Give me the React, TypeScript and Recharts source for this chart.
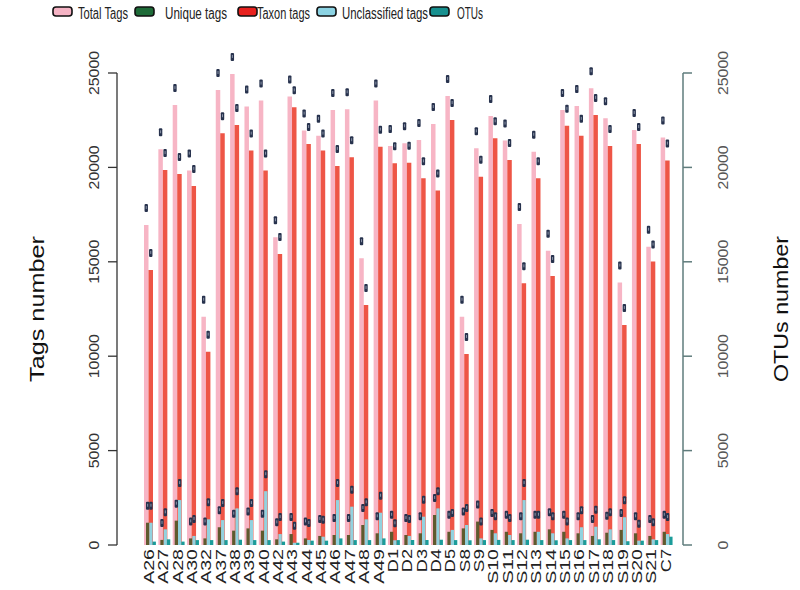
import React from 'react';
import { BarChart, Bar, XAxis, YAxis, Label } from 'recharts';

const categories = ['A26', 'A27', 'A28', 'A30', 'A32', 'A37', 'A38', 'A39', 'A40', 'A42', 'A43', 'A44', 'A45', 'A46', 'A47', 'A48', 'A49', 'D1', 'D2', 'D3', 'D4', 'D5', 'S8', 'S9', 'S10', 'S11', 'S12', 'S13', 'S14', 'S15', 'S16', 'S17', 'S18', 'S19', 'S20', 'S21', 'C7'];
const totalTags = [16950, 20960, 23300, 19830, 12090, 24100, 24950, 23220, 23540, 16300, 23750, 21950, 21670, 23040, 23080, 15190, 23540, 21140, 21280, 21450, 22300, 23780, 12090, 21010, 22720, 21420, 17000, 20830, 15590, 23040, 23250, 24190, 22600, 13900, 21980, 15800, 21590];
const uniqueTags = [1180, 270, 1290, 350, 350, 940, 760, 880, 760, 300, 580, 350, 480, 530, 530, 1060, 620, 700, 530, 620, 1590, 700, 880, 1240, 800, 700, 620, 700, 830, 700, 620, 480, 650, 800, 620, 480, 700];
const taxonTags = [14570, 19860, 19650, 19020, 10240, 21810, 22250, 20890, 19830, 15410, 23180, 21240, 20890, 20080, 20540, 12710, 21100, 20220, 20250, 19420, 18770, 22510, 10120, 19510, 21540, 20390, 13860, 19420, 14250, 22200, 21670, 22780, 21140, 11650, 21240, 15010, 20360];
const unclassifiedTags = [1180, 830, 2380, 480, 1360, 1320, 1940, 1320, 2850, 580, 120, 265, 440, 2380, 2030, 1360, 1710, 250, 480, 1500, 1940, 800, 1060, 350, 620, 530, 2380, 700, 620, 350, 940, 970, 830, 1470, 230, 300, 580];
const otus = [180, 300, 180, 260, 260, 260, 280, 260, 260, 180, 120, 230, 230, 350, 260, 260, 350, 260, 265, 265, 280, 260, 250, 260, 270, 260, 280, 260, 250, 260, 260, 300, 260, 200, 230, 260, 440];
const yTicks = [0, 5000, 10000, 15000, 20000, 25000];

const legendItems = [
  { name: 'Total Tags', color: '#F5B3C4', box: 53, text: 78, len: 50 },
  { name: 'Unique tags', color: '#1E6B38', box: 135, text: 165, len: 62 },
  { name: 'Taxon tags', color: '#E8211E', box: 238, text: 257, len: 53 },
  { name: 'Unclassified tags', color: '#8CD3E3', box: 317, text: 342, len: 86 },
  { name: 'OTUs', color: '#17908F', box: 430, text: 457, len: 26 },
];

const data = categories.map((name, i) => ({
  name,
  total: totalTags[i],
  unique: uniqueTags[i],
  taxon: taxonTags[i],
  unclassified: unclassifiedTags[i],
  otus: otus[i],
}));

const FONT = '"Liberation Sans", Arial, sans-serif';
const SQUEEZE = 0.68; // legend text is narrow in the original

// little error mark sitting above each bar
const Mark = (props: any) => {
  const { x, y, width } = props;
  if (x == null || y == null) return null;
  const cx = x + width / 2;
  return (
    <g>
      <rect x={cx - 1.7} y={y - 21} width={3.4} height={8} rx={1} fill="#27324d" />
      <rect x={cx - 0.5} y={y - 19} width={1} height={3} fill="#8a94a8" />
    </g>
  );
};

const XTick = (props: any) => {
  const { x, y, payload } = props;
  const label = String(payload.value);
  return (
    <text
      x={x}
      y={y}
      transform={`rotate(-90, ${x}, ${y})`}
      textAnchor="end"
      dy="0.37em"
      fontSize={15.5}
      fontFamily={FONT}
      fill="#222"
      textLength={label.length * 11.6}
      lengthAdjust="spacingAndGlyphs"
    >
      {label}
    </text>
  );
};

const makeYTick = (color: string) => (props: any) => {
  const { x, y, payload } = props;
  const label = String(payload.value);
  return (
    <text
      x={x}
      y={y}
      transform={`rotate(-90, ${x}, ${y})`}
      textAnchor="middle"
      fontSize={14}
      fontFamily={FONT}
      fill={color}
      textLength={label.length * 8.8}
      lengthAdjust="spacingAndGlyphs"
    >
      {label}
    </text>
  );
};

const makeTitle = (text: string, bx: number) => (props: any) => {
  const vb = props.viewBox || {};
  const cy = (vb.y || 0) + (vb.height || 0) / 2;
  return (
    <text
      x={bx}
      y={cy}
      transform={`rotate(-90, ${bx}, ${cy})`}
      textAnchor="middle"
      fontSize={21}
      fontFamily={FONT}
      fill="#111"
      textLength={146}
      lengthAdjust="spacingAndGlyphs"
    >
      {text}
    </text>
  );
};

export default function App() {
  return (
    <div style={{ position: 'absolute', left: 0, top: 0, width: 800, height: 590, background: '#fff' }}>
      <svg width={800} height={30} style={{ position: 'absolute', left: 0, top: 0 }}>
        {legendItems.map((it) => (
          <g key={it.name}>
            <rect x={it.box} y={7} width={19} height={9} rx={3} fill={it.color} stroke="#111" strokeWidth={1.6} />
            <g transform={`translate(${it.text}, 19) scale(${SQUEEZE}, 1)`}>
              <text
                x={0}
                y={0}
                fontSize={16}
                fontFamily={FONT}
                fill="#222"
                textLength={it.len / SQUEEZE}
                lengthAdjust="spacingAndGlyphs"
              >
                {it.name}
              </text>
            </g>
          </g>
        ))}
      </svg>
      <BarChart
        width={800}
        height={590}
        data={data}
        margin={{ top: 73, right: 0, bottom: 0, left: 0 }}
        barGap={0}
      >
        <XAxis
          xAxisId="a"
          dataKey="name"
          height={45}
          padding={{ left: 24, right: 11 }}
          axisLine={false}
          tickLine={false}
          tickSize={0}
          tickMargin={4}
          interval={0}
          tick={<XTick />}
        />
        <XAxis xAxisId="b" dataKey="name" hide padding={{ left: 27, right: 8 }} />
        <YAxis
          yAxisId="l"
          width={117}
          domain={[0, 25000]}
          ticks={yTicks}
          interval={0}
          axisLine={{ stroke: '#333', strokeWidth: 1.3 }}
          tickLine={{ stroke: '#333', strokeWidth: 1.3 }}
          tickSize={9}
          tickMargin={9}
          tick={makeYTick('#333')}
        >
          <Label content={makeTitle('Tags number', 44)} />
        </YAxis>
        <YAxis
          yAxisId="r"
          orientation="right"
          width={117}
          domain={[0, 25000]}
          ticks={yTicks}
          interval={0}
          axisLine={{ stroke: '#5f7c7c', strokeWidth: 1.5 }}
          tickLine={{ stroke: '#5f7c7c', strokeWidth: 1.5 }}
          tickSize={9}
          tickMargin={36}
          tick={makeYTick('#555')}
        >
          <Label content={makeTitle('OTUs number', 788)} />
        </YAxis>
        <Bar xAxisId="a" yAxisId="l" dataKey="total" barSize={4.5} fill="#F7B5C5" label={<Mark />} isAnimationActive={false} />
        <Bar xAxisId="a" yAxisId="l" dataKey="taxon" barSize={4.5} fill="#EE5546" label={<Mark />} isAnimationActive={false} />
        <Bar xAxisId="b" yAxisId="r" dataKey="unique" barSize={3.3} fill="#5f5a2e" label={<Mark />} isAnimationActive={false} />
        <Bar xAxisId="b" yAxisId="r" dataKey="unclassified" barSize={3.3} fill="#92D2DF" label={<Mark />} isAnimationActive={false} />
        <Bar xAxisId="b" yAxisId="r" dataKey="otus" barSize={3.3} fill="#1B9C9A" isAnimationActive={false} />
      </BarChart>
    </div>
  );
}
